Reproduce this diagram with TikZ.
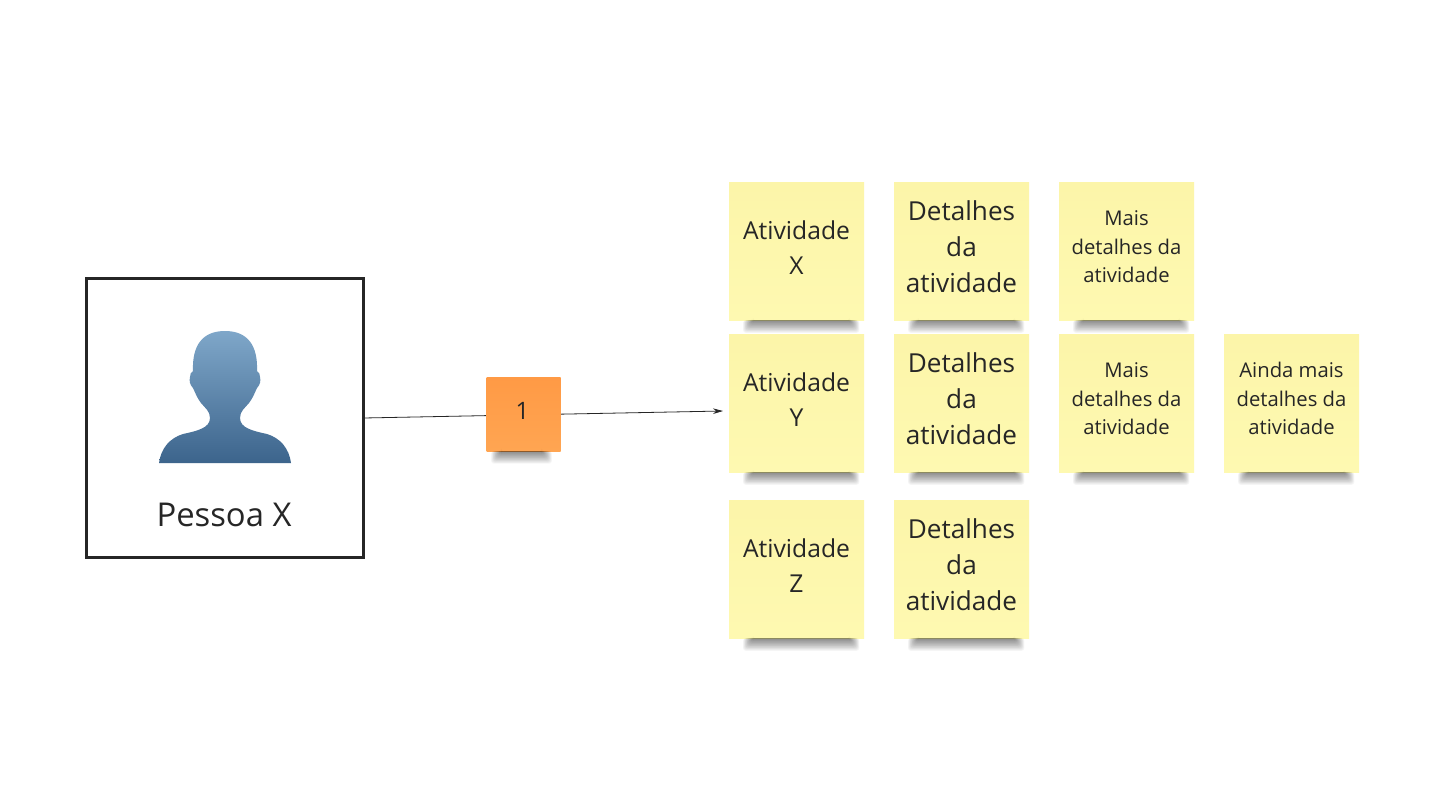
\documentclass[tikz,border=0pt]{standalone}
\usepackage{fontspec}
\setmainfont{Open Sans}
\usetikzlibrary{arrows.meta}
\definecolor{inkc}{HTML}{262626}
\definecolor{stickyTop}{HTML}{FCF5A9}
\definecolor{stickyBot}{HTML}{FEF9B1}
\definecolor{orangeTop}{HTML}{FF9A45}
\definecolor{orangeBot}{HTML}{FFA552}
\definecolor{personTop}{HTML}{7FA7C9}
\definecolor{personBot}{HTML}{3C648C}
\tikzset{
  x=0.75pt,y=-0.75pt,
  base/.style={inner sep=0pt,outer sep=0pt,align=center,text=inkc},
  sticky/.style={base,minimum width=101.25pt,minimum height=103pt,top color=stickyTop,bottom color=stickyBot},
  titletext/.style={font=\fontsize{18.5}{26}\selectfont},
  bigtext/.style={font=\fontsize{19.6}{27}\selectfont},
  smalltext/.style={font=\fontsize{15.2}{21.4}\selectfont},
  orangebox/.style={base,minimum width=55.5pt,minimum height=55.5pt,top color=orangeTop,bottom color=orangeBot,font=\fontsize{18}{24}\selectfont},
  personbox/.style={base,draw=inkc,line width=2.1pt,minimum width=208pt,minimum height=209.5pt},
  link/.style={draw=inkc,line width=0.6pt},
}
\newcommand{\dropshadow}[3]{%
  \foreach \i in {0,...,15}{
    \fill[black,opacity=0.036,rounded corners=2pt]
      ([xshift=#2+\i*0.5pt-1.5pt]#1.south west) rectangle ([xshift=-#3-\i*0.5pt+1.5pt,yshift=-9.5pt+\i*0.62pt]#1.south east);
  }%
}
\newcommand{\txt}[2]{\smash{\raisebox{#1}{\begin{tabular}{@{}c@{}}#2\end{tabular}}}}
\begin{document}
\begin{tikzpicture}
\useasboundingbox[fill=white] (0,0) rectangle (1440,810);
\node[personbox] (person) at (225,418) {};
\shade[top color=personTop,bottom color=personBot]
  (159,463) .. controls (161,448) and (170,438) .. (183,434)
  .. controls (197,431) and (210,428) .. (210,418)
  .. controls (210,411) and (205,408) .. (201,403)
  .. controls (197,398) and (195,392) .. (193,388)
  .. controls (190,385) and (189,381) .. (190,377)
  .. controls (190,374) and (191,372) .. (193,371)
  .. controls (192,346) and (202,331) .. (225,331)
  .. controls (248,331) and (258,346) .. (257,371)
  .. controls (259,372) and (260,374) .. (260,377)
  .. controls (261,381) and (260,385) .. (257,388)
  .. controls (255,392) and (253,398) .. (249,403)
  .. controls (245,408) and (240,411) .. (240,418)
  .. controls (240,428) and (253,431) .. (267,434)
  .. controls (280,438) and (289,448) .. (291,463) -- cycle;
\node[base,font=\fontsize{24.6}{30}\selectfont] (personlabel) at (224,515) {Pessoa X};
\coordinate (arrowend) at (723,411);
\draw[link,-{Stealth[length=7.5pt,width=4.2pt]}] (person.east) -- (arrowend);
\node[orangebox] (num) at (523.5,414) {\hspace{-1.5pt}\raisebox{5pt}{1}};
\dropshadow{num}{5pt}{8pt}

\node[sticky,titletext] (ax) at (796.5,251.5) {\txt{-3pt}{Atividade\\X}};
\node[sticky,titletext] (ay) at (796.5,403.5) {\txt{-3pt}{Atividade\\Y}};
\node[sticky,titletext] (az) at (796.5,569.5) {\txt{-3pt}{Atividade\\Z}};
\node[sticky,bigtext] (dx) at (961.5,251.5) {\txt{-3.75pt}{Detalhes\\da\\atividade}};
\node[sticky,bigtext] (dy) at (961.5,403.5) {\txt{-3.75pt}{Detalhes\\da\\atividade}};
\node[sticky,bigtext] (dz) at (961.5,569.5) {\txt{-3.75pt}{Detalhes\\da\\atividade}};
\node[sticky,smalltext] (mx) at (1126.5,251.5) {\txt{-1.2pt}{Mais\\detalhes da\\atividade}};
\node[sticky,smalltext] (my) at (1126.5,403.5) {\txt{-1.2pt}{Mais\\detalhes da\\atividade}};
\node[sticky,smalltext] (ey) at (1291.5,403.5) {\txt{-1.2pt}{Ainda mais\\detalhes da\\atividade}};
\foreach \n in {ax,ay,az,dx,dy,dz,mx,my,ey}{\dropshadow{\n}{12pt}{5pt}}
\end{tikzpicture}
\end{document}
